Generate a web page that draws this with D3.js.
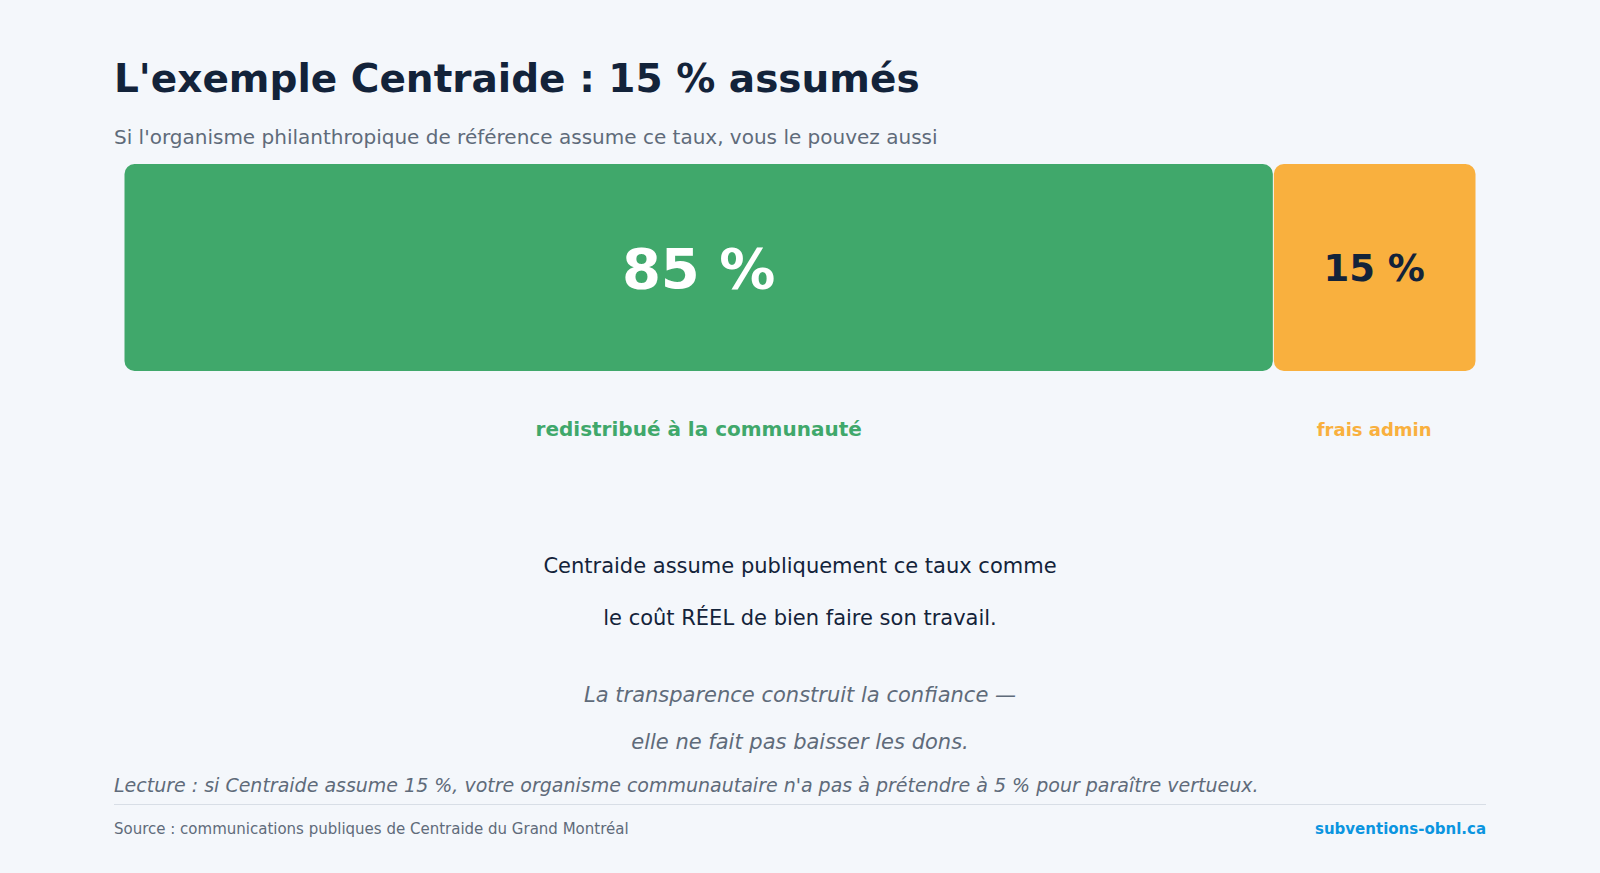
<!DOCTYPE html>
<html><head><meta charset="utf-8">
<script src="https://cdn.jsdelivr.net/npm/d3@7"></script>
<style>body{margin:0;background:#f4f7fb;}svg{display:block;font-family:"DejaVu Sans",sans-serif;}</style>
</head><body>
<script>
// data
var parts = ["redistribué à la communauté", "frais admin"];
var shares = [85, 15];
var colors = ["#40a86b", "#f9b03e"];
var valueColors = ["#ffffff", "#13233a"];
var valueSizes = [56, 37];
var labelSizes = [20, 18];

var W = 1600, H = 873;
var svg = d3.select("body").append("svg").attr("width", W).attr("height", H);
svg.append("rect").attr("width", W).attr("height", H).attr("fill", "#f4f7fb");

svg.append("text").attr("x", 114).attr("y", 92).text("L'exemple Centraide : 15 % assumés")
	.attr("font-size", 39).attr("font-weight", "bold").attr("fill", "#13233a");
svg.append("text").attr("x", 114).attr("y", 144).text("Si l'organisme philanthropique de référence assume ce taux, vous le pouvez aussi")
	.attr("font-size", 20).attr("fill", "#5f6b7a");

var x = d3.scaleLinear().domain([0, 100]).range([124.5, 1475.5]);
var starts = d3.cumsum([0].concat(shares));
var barTop = 164, barH = 207;

shares.forEach(function(v, i){
	var x0 = x(starts[i]), x1 = x(starts[i] + v);
	svg.append("rect").attr("x", x0 + (i ? 1 : 0)).attr("y", barTop)
		.attr("width", x1 - x0 - (i ? 1 : 0)).attr("height", barH)
		.attr("rx", 10).attr("ry", 10).attr("fill", colors[i]);
	var cx = (x0 + x1) / 2;
	svg.append("text").attr("x", cx).attr("y", barTop + barH / 2).attr("dy", "0.36em")
		.attr("text-anchor", "middle").text(v + " %")
		.attr("font-size", valueSizes[i]).attr("font-weight", "bold").attr("fill", valueColors[i]);
	svg.append("text").attr("x", cx).attr("y", 436).attr("text-anchor", "middle").text(parts[i])
		.attr("font-size", labelSizes[i]).attr("font-weight", "bold").attr("fill", colors[i]);
});

var cxm = 800;
[["Centraide assume publiquement ce taux comme", 573], ["le coût RÉEL de bien faire son travail.", 625]].forEach(function(d){
	svg.append("text").attr("x", cxm).attr("y", d[1]).attr("text-anchor", "middle").text(d[0])
		.attr("font-size", 21).attr("fill", "#13233a");
});
[["La transparence construit la confiance —", 702], ["elle ne fait pas baisser les dons.", 749]].forEach(function(d){
	svg.append("text").attr("x", cxm).attr("y", d[1]).attr("text-anchor", "middle").text(d[0])
		.attr("font-size", 21).attr("font-style", "italic").attr("fill", "#5f6b7a");
});

svg.append("text").attr("x", 114).attr("y", 792)
	.text("Lecture : si Centraide assume 15 %, votre organisme communautaire n'a pas à prétendre à 5 % pour paraître vertueux.")
	.attr("font-size", 19).attr("font-style", "italic").attr("fill", "#5f6b7a");
svg.append("line").attr("x1", 114).attr("x2", 1486).attr("y1", 804.5).attr("y2", 804.5)
	.attr("stroke", "#d8dee6").attr("stroke-width", 1);
svg.append("text").attr("x", 114).attr("y", 834).text("Source : communications publiques de Centraide du Grand Montréal")
	.attr("font-size", 15).attr("fill", "#5f6b7a");
svg.append("text").attr("x", 1486).attr("y", 834).attr("text-anchor", "end").text("subventions-obnl.ca")
	.attr("font-size", 15).attr("font-weight", "bold").attr("fill", "#0b95e0");
</script>
</body></html>
